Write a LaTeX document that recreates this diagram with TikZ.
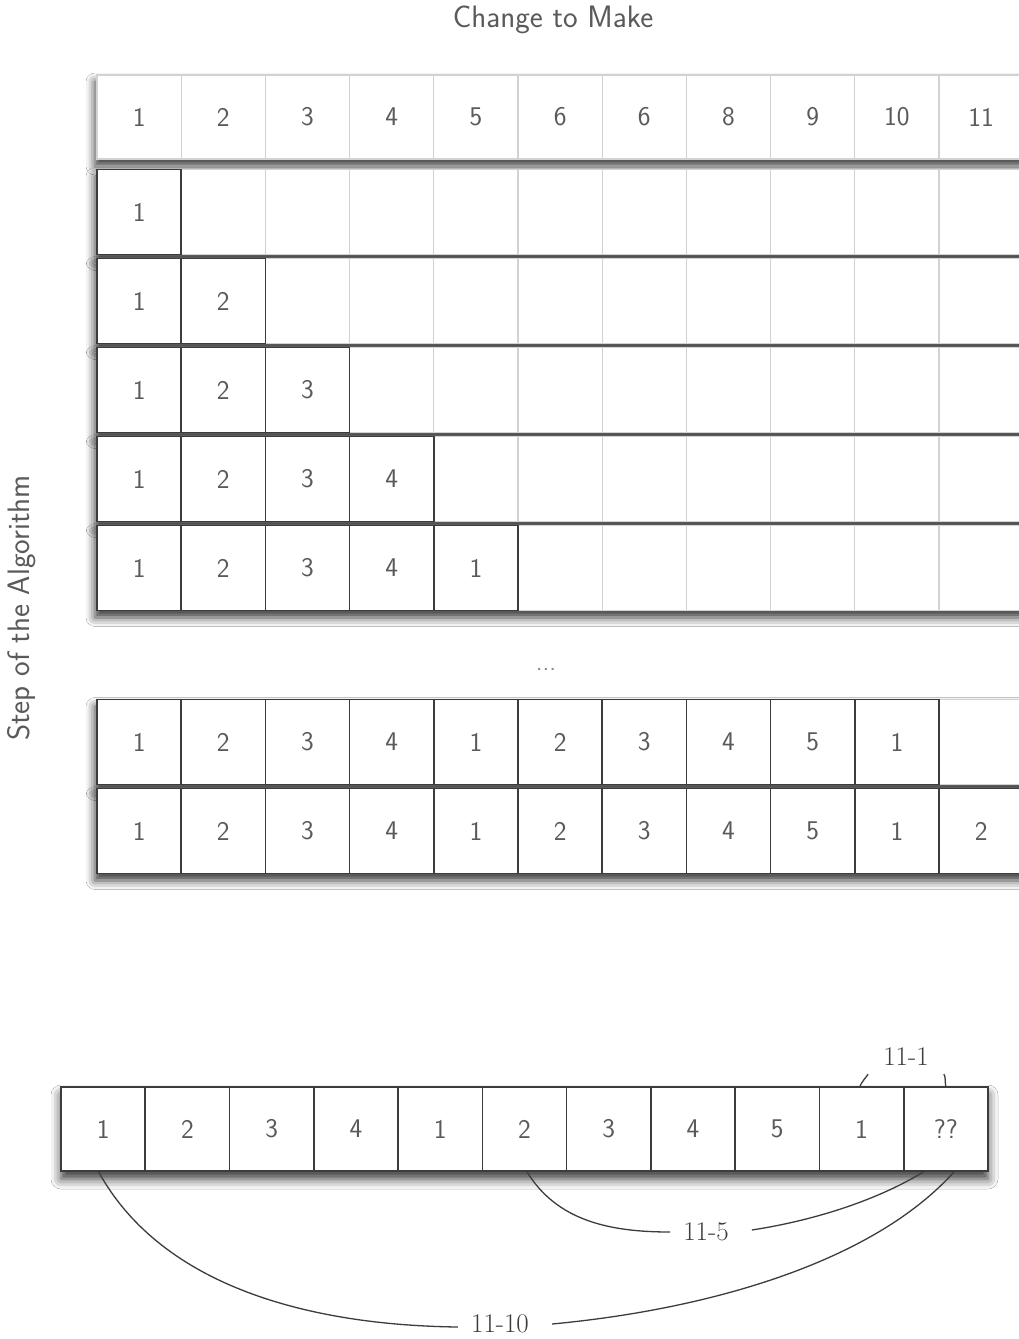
\documentclass[tikz,border=0pt]{standalone}
\usetikzlibrary{shadows.blur,calc}
\definecolor{txt}{HTML}{5A5A5A}
\definecolor{dark}{HTML}{3C3C3C}
\definecolor{gridc}{HTML}{D2D2D2}
\begin{document}
\begin{tikzpicture}[x=1pt,y=-1pt,
  font=\sffamily\fontsize{27}{30}\selectfont,
  strip/.style={fill=white,draw=none,blur shadow={shadow xshift=-2pt,shadow yshift=-7pt,shadow blur radius=9pt,shadow opacity=80}},
  bstrip/.style={fill=white,draw=none,blur shadow={shadow xshift=0pt,shadow yshift=-8pt,shadow blur radius=10pt,shadow opacity=80}},
  emptycell/.style={draw=gridc,line width=1.2pt,minimum width=84.2pt,minimum height=85pt,inner sep=0pt,outer sep=0pt,text=txt},
  fullcell/.style={draw=dark,line width=1.6pt,minimum width=84.2pt,minimum height=85pt,inner sep=0pt,outer sep=0pt,text=txt},
  lab/.style={font=\rmfamily\fontsize{27}{30}\selectfont,text=dark,fill=white,inner xsep=13pt,inner ysep=2pt},
  conn/.style={draw=dark,line width=1.3pt}]
\useasboundingbox (0,0) rectangle (1019,1339);
\fill[white] (0,0) rectangle (1019,1339);

% titles
\node[text=txt,font=\sffamily\fontsize{31}{34}\selectfont] (title) at (553,20) {Change to Make};
\node[text=txt,rotate=90,font=\sffamily\fontsize{31}{34}\selectfont] (ylab) at (22,608) {Step of the Algorithm};

% header
\fill[strip] (97,75) rectangle (1040,159);
\foreach \v [count=\i] in {1,2,3,4,5,6,6,8,9,10,11}
  \node[emptycell,minimum height=84pt] (h\i) at ({97+84.2*(\i-0.5)},117) {\v};

% top block rows
\foreach \r/\vals in {1/{1},2/{1,2},3/{1,2,3},4/{1,2,3,4},5/{1,2,3,4,1}}{
  \pgfmathsetmacro\yc{212+89*(\r-1)}
  \fill[strip] (97,\yc-42.5) rectangle (1040,\yc+42.5);
  \pgfmathtruncatemacro\n{\r+1}
  \foreach \i in {\n,...,11}
    \node[emptycell] (e\r-\i) at ({97+84.2*(\i-0.5)},\yc) {};
  \foreach \v [count=\i] in \vals
    \node[fullcell] (c\r-\i) at ({97+84.2*(\i-0.5)},\yc) {\v};
}

\node[text=txt!70,anchor=base,font=\sffamily\fontsize{26}{28}\selectfont] (dots) at (546,670) {...};

% lower block
\fill[strip] (97,742-42.5) rectangle (1040,742+42.5);
\node[emptycell] (eA-11) at ({97+84.2*10.5},742) {};
\foreach \v [count=\i] in {1,2,3,4,1,2,3,4,5,1}
  \node[fullcell] (cA-\i) at ({97+84.2*(\i-0.5)},742) {\v};
\fill[strip] (97,831-42.5) rectangle (1040,831+42.5);
\foreach \v [count=\i] in {1,2,3,4,1,2,3,4,5,1,2}
  \node[fullcell] (cB-\i) at ({97+84.2*(\i-0.5)},831) {\v};

% bottom array
\fill[bstrip] (61,1087) rectangle (988,1171);
\foreach \v [count=\i] in {1,2,3,4,1,2,3,4,5,1,??}
  \node[fullcell,minimum width=84.27pt,minimum height=84pt] (b\i) at ({61+84.27*(\i-0.5)},1129) {\v};

% labels
\node[lab,inner xsep=15pt,inner ysep=8pt] (l1) at (906,1057) {11-1};
\node[lab] (l5) at (706,1232) {11-5};
\node[lab] (l10) at (500,1324) {11-10};

% connectors
\draw[conn] ($(b10.north)+(-2,0)$) .. controls +(2,-5) and +(-2,3) .. (l1.south west);
\draw[conn] (l1.south east) .. controls +(2,3) and +(-1,-5) .. (b11.north);
\draw[conn] ($(b6.south)+(2,0)$) .. controls +(30,50) and +(-60,0) .. (l5.west);
\draw[conn] ($(l5.east)+(10,-2)$) .. controls +(65,-10) and +(-45,28) .. ($(b11.south)+(-21,0)$);
\draw[conn] ($(b1.south)+(-5,0)$) .. controls +(60,110) and +(-160,-2) .. ($(l10.west)+(0,3)$);
\draw[conn] ($(l10.east)+(10,0)$) .. controls +(160,-15) and +(-80,90) .. ($(b11.south)+(9,0)$);
\end{tikzpicture}
\end{document}
